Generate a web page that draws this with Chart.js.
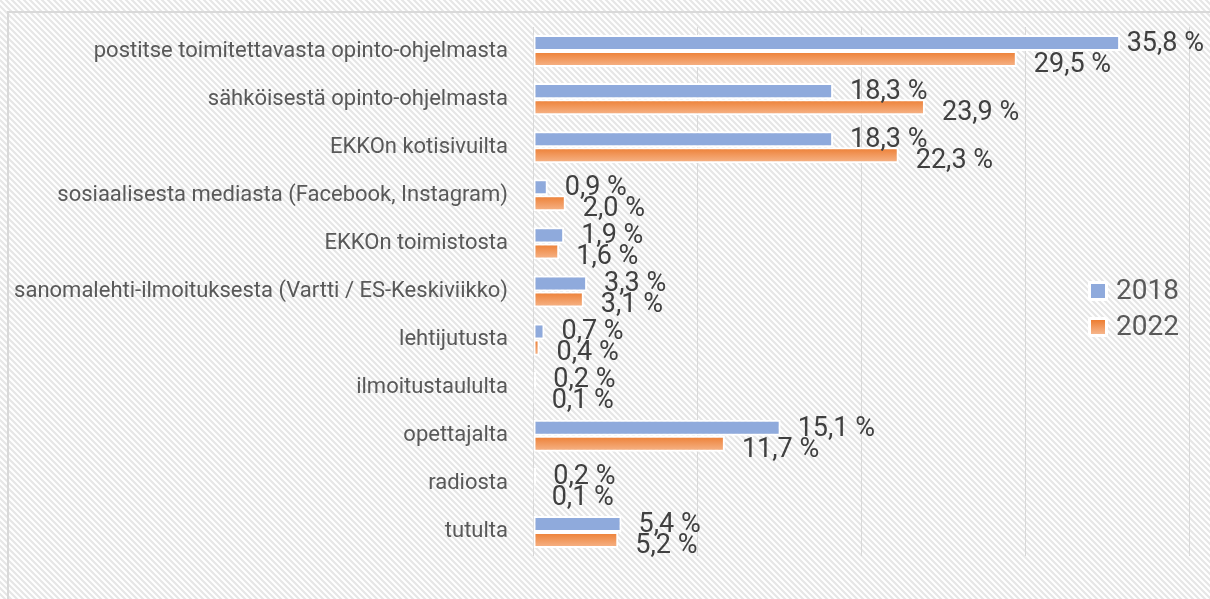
<!DOCTYPE html>
<html>
<head>
<meta charset="utf-8">
<script src="https://cdn.jsdelivr.net/npm/chart.js@4"></script>
<style>
  html, body { margin: 0; padding: 0; background: #fff; }
  #wrap { width: 1210px; height: 599px; }
</style>
</head>
<body>
<div id="wrap"><canvas id="sourceChart"></canvas></div>
<script>
const categories = [
    'postitse toimitettavasta opinto-ohjelmasta',
    'sähköisestä opinto-ohjelmasta',
    'EKKOn kotisivuilta',
    'sosiaalisesta mediasta (Facebook, Instagram)',
    'EKKOn toimistosta',
    'sanomalehti-ilmoituksesta (Vartti / ES-Keskiviikko)',
    'lehtijutusta',
    'ilmoitustaululta',
    'opettajalta',
    'radiosta',
    'tutulta'
];
const values2018 = [35.8, 18.3, 18.3, 0.9, 1.9, 3.3, 0.7, 0.2, 15.1, 0.2, 5.4];
const values2022 = [29.5, 23.9, 22.3, 2.0, 1.6, 3.1, 0.4, 0.1, 11.7, 0.1, 5.2];
const seriesNames = ['2018', '2022'];
const xTicks = [0, 10, 20, 30, 40];

const FONT = 'Roboto, "Liberation Sans", sans-serif';

// diagonal hatch used behind the whole chart
function makeHatch(ctx) {
    let tile = document.createElement('canvas');
    tile.width = 6;
    tile.height = 6;
    let g = tile.getContext('2d');
    g.fillStyle = '#ffffff';
    g.fillRect(0, 0, 6, 6);
    g.strokeStyle = '#e6e6e6';
    g.lineWidth = 2.2;
    g.beginPath();
    g.moveTo(-1, -1); g.lineTo(7, 7);
    g.moveTo(-1, 5); g.lineTo(1, 7);
    g.moveTo(5, -1); g.lineTo(7, 1);
    g.stroke();
    return ctx.createPattern(tile, 'repeat');
}

function orangeFill(context) {
    const chart = context.chart;
    const yScale = chart.scales.y;
    if (!yScale || context.dataIndex === undefined) return '#ed7d31';
    const c = yScale.getPixelForValue(context.dataIndex);
    if (!Number.isFinite(c)) return '#ed7d31';
    let grad = chart.ctx.createLinearGradient(0, c, 0, c + 16);
    grad.addColorStop(0, '#ed7d31');
    grad.addColorStop(1, '#f6b68c');
    return grad;
}

const backgroundPlugin = {
    id: 'hatchBackground',
    beforeDraw(chart) {
        const ctx = chart.ctx;
        ctx.save();
        ctx.fillStyle = makeHatch(ctx);
        ctx.fillRect(0, 0, chart.width, chart.height);
        ctx.strokeStyle = '#d9d9d9';
        ctx.lineWidth = 2;
        ctx.strokeRect(8, 12, chart.width + 10, chart.height + 10);
        ctx.restore();
    }
};

// orange labels sit a bit lower so they don't collide with the blue ones
const labelShift = [1, 6];

const valueLabels = {
    id: 'valueLabels',
    afterDatasetsDraw(chart) {
        const ctx = chart.ctx;
        ctx.save();
        ctx.font = '27px ' + FONT;
        ctx.fillStyle = '#404040';
        ctx.textBaseline = 'middle';
        chart.data.datasets.forEach((ds, i) => {
            chart.getDatasetMeta(i).data.forEach((bar, j) => {
                const txt = ds.data[j].toFixed(1).replace('.', ',') + ' %';
                const w = ctx.measureText(txt).width;
                let x = bar.x + 17;
                if (x + w > chart.width - 6) x = chart.width - 6 - w;
                ctx.fillText(txt, x, bar.y + labelShift[i]);
            });
        });
        ctx.restore();
    }
};

const sideLegend = {
    id: 'sideLegend',
    afterDraw(chart) {
        const ctx = chart.ctx;
        const area = chart.chartArea;
        const x = area.right - 98;
        ctx.save();
        ctx.font = '28px ' + FONT;
        ctx.textBaseline = 'middle';
        chart.data.datasets.forEach((ds, i) => {
            const cy = 291 + i * 36;
            ctx.fillStyle = '#ffffff';
            ctx.fillRect(x - 3, cy - 10, 20, 20);
            if (i === 1) {
                let grad = ctx.createLinearGradient(0, cy - 7, 0, cy + 7);
                grad.addColorStop(0, '#ed7d31');
                grad.addColorStop(1, '#f6b68c');
                ctx.fillStyle = grad;
            } else {
                ctx.fillStyle = ds.backgroundColor;
            }
            ctx.fillRect(x, cy - 7, 14, 14);
            ctx.fillStyle = '#595959';
            ctx.fillText(ds.label, x + 25, cy + 1);
        });
        ctx.restore();
    }
};

const ctx = document.getElementById('sourceChart');

new Chart(ctx, {
    type: 'bar',
    data: {
        labels: categories,
        datasets: [{
            label: seriesNames[0],
            data: values2018,
            backgroundColor: '#8faadc',
            borderColor: '#ffffff',
            borderWidth: 2,
            borderSkipped: false
        }, {
            label: seriesNames[1],
            data: values2022,
            backgroundColor: orangeFill,
            borderColor: '#ffffff',
            borderWidth: 2,
            borderSkipped: false
        }]
    },
    options: {
        indexAxis: 'y',
        responsive: true,
        maintainAspectRatio: false,
        animation: false,
        categoryPercentage: 0.667,
        barPercentage: 1,
        layout: {
            padding: { top: 27, right: 21, bottom: 43, left: 0 }
        },
        scales: {
            x: {
                min: xTicks[0],
                max: xTicks[xTicks.length - 1],
                afterBuildTicks(scale) {
                    scale.ticks = xTicks.map(v => ({ value: v }));
                },
                afterFit(scale) {
                    scale.height = 0;
                },
                ticks: { display: false },
                border: { display: false },
                grid: { color: '#d9d9d9', lineWidth: 1, drawTicks: false }
            },
            y: {
                afterFit(scale) {
                    scale.width = 533;
                    scale.paddingTop = 0;
                    scale.paddingBottom = 0;
                },
                ticks: {
                    color: '#595959',
                    padding: 25,
                    font: { family: FONT, size: 22 }
                },
                border: { display: false },
                grid: { display: false, drawTicks: false }
            }
        },
        plugins: {
            legend: { display: false },
            tooltip: { enabled: false }
        }
    },
    plugins: [backgroundPlugin, valueLabels, sideLegend]
});
</script>
</body>
</html>
